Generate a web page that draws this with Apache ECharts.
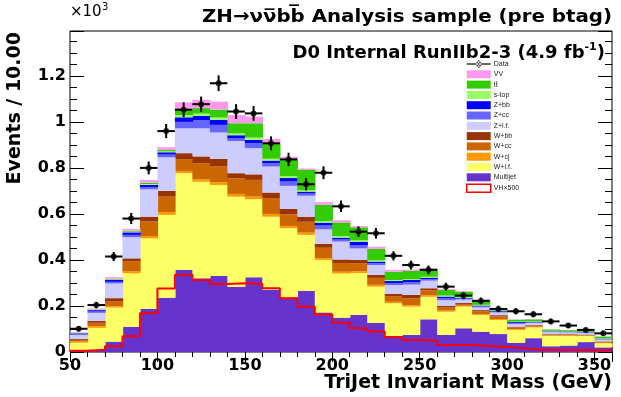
<!DOCTYPE html>
<html><head><meta charset="utf-8">
<script src="https://cdn.jsdelivr.net/npm/echarts@6/dist/echarts.min.js"></script>
<style>html,body{margin:0;padding:0;background:#fff}#c{width:621px;height:397px}</style>
</head><body><div id="c"></div>
<script>
// ---- data (Events / 10 GeV, in units of 10^3) ----
const binLow = [50,60,70,80,90,100,110,120,130,140,150,160,170,180,190,200,210,220,230,240,250,260,270,280,290,300,310,320,330,340,350];
const binWidth = 10;
const multijet = [0.005,0.01,0.045,0.11,0.187,0.236,0.357,0.32,0.33,0.284,0.325,0.27,0.238,0.265,0.172,0.149,0.161,0.126,0.07,0.074,0.142,0.074,0.103,0.088,0.078,0.04,0.06,0.025,0.028,0.043,0.02];
const wlf = [0.035,0.095,0.148,0.232,0.307,0.36,0.42,0.42,0.396,0.391,0.339,0.318,0.3,0.244,0.228,0.192,0.182,0.158,0.142,0.123,0.098,0.101,0.094,0.073,0.061,0.056,0.047,0.045,0.042,0.026,0.018];
const wcj = [0.006,0.008,0.006,0.008,0.01,0.012,0.01,0.01,0.012,0.012,0.012,0.012,0.01,0.01,0.008,0.008,0.008,0.008,0.006,0.006,0.006,0.005,0.004,0.004,0.004,0.003,0.003,0.002,0.002,0.002,0.002];
const wcc = [0.006,0.014,0.02,0.045,0.063,0.067,0.051,0.071,0.068,0.068,0.072,0.069,0.05,0.047,0.045,0.038,0.035,0.03,0.025,0.03,0.022,0.014,0.008,0.012,0.012,0.008,0.005,0.004,0.004,0.003,0.004];
const wbb = [0.004,0.008,0.015,0.012,0.021,0.025,0.026,0.029,0.033,0.022,0.024,0.024,0.024,0.022,0.017,0.015,0.014,0.013,0.01,0.015,0.009,0.006,0.004,0.005,0.005,0.003,0.003,0.002,0.002,0.002,0.002];
const zlf = [0.018,0.035,0.064,0.092,0.119,0.146,0.108,0.122,0.115,0.14,0.114,0.113,0.1,0.091,0.063,0.078,0.05,0.043,0.038,0.045,0.033,0.025,0.015,0.012,0.012,0.012,0.008,0.008,0.007,0.006,0.008];
const zcc = [0.004,0.006,0.007,0.01,0.009,0.012,0.028,0.036,0.033,0.011,0.021,0.014,0.019,0.01,0.017,0.009,0.015,0.008,0.009,0.01,0.007,0.008,0.004,0.004,0.003,0.004,0.003,0.002,0.002,0.002,0.002];
const zbb = [0.003,0.006,0.008,0.011,0.01,0.01,0.02,0.018,0.022,0.014,0.015,0.012,0.015,0.008,0.012,0.008,0.014,0.007,0.009,0.01,0.006,0.008,0.004,0.004,0.003,0.004,0.003,0.002,0.002,0.002,0.002];
const stop = [0.001,0.001,0.002,0.003,0.004,0.004,0.01,0.01,0.01,0.008,0.01,0.008,0.008,0.006,0.007,0.006,0.006,0.005,0.004,0.004,0.004,0.004,0.004,0.003,0.002,0.002,0.002,0.002,0.001,0.001,0.002];
const ttbar = [0.001,0.002,0.003,0.004,0.006,0.006,0.023,0.024,0.034,0.044,0.062,0.067,0.071,0.088,0.07,0.06,0.057,0.05,0.036,0.035,0.033,0.025,0.022,0.021,0.01,0.008,0.008,0.006,0.005,0.004,0.007];
const vv = [0.003,0.004,0.007,0.008,0.012,0.012,0.032,0.036,0.035,0.036,0.029,0.019,0.014,0.006,0.012,0.01,0.005,0.01,0.008,0.006,0.004,0.004,0.003,0.003,0.002,0.002,0.001,0.001,0.001,0.001,0.001];
const dataVals = [0.101,0.204,0.415,0.58,0.80,0.96,1.053,1.077,1.168,1.045,1.037,0.907,0.837,0.729,0.779,0.633,0.523,0.516,0.418,0.378,0.357,0.284,0.245,0.222,0.187,0.177,0.164,0.133,0.115,0.096,0.081];
const dataErr = [0.011,0.014,0.02,0.024,0.028,0.031,0.032,0.033,0.034,0.032,0.032,0.03,0.029,0.027,0.028,0.025,0.023,0.023,0.02,0.019,0.019,0.017,0.016,0.015,0.014,0.013,0.013,0.012,0.011,0.01,0.009];
const vh500 = [0.005,0.01,0.025,0.068,0.168,0.276,0.336,0.313,0.296,0.299,0.296,0.277,0.234,0.197,0.163,0.127,0.103,0.089,0.064,0.052,0.049,0.03,0.03,0.026,0.022,0.016,0.01,0.01,0.009,0.007,0.006];
const xTickLabels = [50,100,150,200,250,300,350];
const yTickLabels = [0,0.2,0.4,0.6,0.8,1,1.2];

// stack order bottom -> top
const stackDefs = [
  {name:'Multijet', vals:multijet, color:'#6633cc'},
  {name:'W+l.f.', vals:wlf, color:'#ffff66'},
  {name:'W+cj', vals:wcj, color:'#ff9900'},
  {name:'W+cc', vals:wcc, color:'#cc6600'},
  {name:'W+bb', vals:wbb, color:'#993300'},
  {name:'Z+l.f.', vals:zlf, color:'#ccccff'},
  {name:'Z+cc', vals:zcc, color:'#6666ff'},
  {name:'Z+bb', vals:zbb, color:'#0000ff'},
  {name:'s-top', vals:stop, color:'#99ff66'},
  {name:'tt\u0304', vals:ttbar, color:'#33cc00'},
  {name:'VV', vals:vv, color:'#ff99ee'}
];

const base = binLow.map(() => 0);
const series = [];
stackDefs.forEach(d => {
  const rows = binLow.map((x, i) => { const b = base[i]; base[i] += d.vals[i]; return [x, b, base[i]]; });
  series.push({
    type:'custom', name:d.name, xAxisIndex:0, yAxisIndex:0, z:2,
    itemStyle:{color:d.color},
    encode:{x:0, y:[1,2]},
    data: rows,
    renderItem: (params, api) => {
      const x0 = api.value(0), b = api.value(1), t = api.value(2);
      const p0 = api.coord([x0, t]), p1 = api.coord([x0 + binWidth, b]);
      return {type:'rect', shape:{x:p0[0], y:p0[1], width:p1[0]-p0[0]+0.7, height:p1[1]-p0[1]}, style:{fill:d.color}};
    }
  });
});

// VH x 500 step outline
const vhPts = binLow.map((x, i) => [x, vh500[i]]);
vhPts.push([binLow[binLow.length-1] + binWidth, vh500[vh500.length-1]]);
series.push({
  type:'line', name:'VH\u00d7500', step:'end', symbol:'none', z:4,
  itemStyle:{color:'#ff0000'}, lineStyle:{color:'#ff0000', width:2}, data: vhPts
});

// Data error bars
series.push({
  type:'custom', name:'DataErr', z:5, encode:{x:0, y:1},
  data: binLow.map((x, i) => [x + binWidth/2, dataVals[i], dataErr[i]]),
  renderItem: (params, api) => {
    const xc = api.value(0), v = api.value(1), e = api.value(2);
    const l = api.coord([xc - binWidth/2, v]), r = api.coord([xc + binWidth/2, v]);
    const t = api.coord([xc, v + e]), b = api.coord([xc, v - e]);
    return {type:'group', children:[
      {type:'line', shape:{x1:l[0], y1:l[1], x2:r[0], y2:r[1]}, style:{stroke:'#000', lineWidth:2}},
      {type:'line', shape:{x1:t[0], y1:t[1], x2:b[0], y2:b[1]}, style:{stroke:'#000', lineWidth:2}}
    ]};
  }
});
series.push({
  type:'scatter', name:'Data', z:6, symbol:'circle', symbolSize:6,
  itemStyle:{color:'#000'},
  data: binLow.map((x, i) => [x + binWidth/2, dataVals[i]])
});

const FONT = 'DejaVu Sans';
const xMin = 50, xMax = 360, yMin = 0, yMax = 1.395;
function mkX(pos, interval, len, labels) {
  return {type:'value', min:xMin, max:xMax, interval:interval, position:pos,
    axisLine:{show:false}, splitLine:{show:false},
    axisTick:{show:true, inside:true, length:len, lineStyle:{color:'#000', width:1}},
    axisLabel: labels ? {show:true, color:'#000', fontFamily:FONT, fontWeight:'bold', fontSize:16, margin:6,
      formatter: v => xTickLabels.indexOf(v) >= 0 ? String(v) : ''} : {show:false}};
}
function mkY(pos, interval, len, labels) {
  return {type:'value', min:yMin, max:yMax, interval:interval, position:pos,
    axisLine:{show:false}, splitLine:{show:false},
    axisTick:{show:true, inside:true, length:len, lineStyle:{color:'#000', width:1}},
    axisLabel: labels ? {show:true, color:'#000', fontFamily:FONT, fontWeight:'bold', fontSize:16, margin:4,
      formatter: v => { const m = yTickLabels.find(t => Math.abs(t - v) < 1e-6); return m === undefined ? '' : String(m); }} : {show:false}};
}

const legendOrder = ['Data','VV','tt\u0304','s-top','Z+bb','Z+cc','Z+l.f.','W+bb','W+cc','W+cj','W+l.f.','Multijet','VH\u00d7500'];
const legendData = legendOrder.map(n => {
  if (n === 'Data') return {name:n, icon:'path://M0,4.4 L24,4.4 L24,5.6 L0,5.6 Z M9.5,5 A2.5,2.5 0 1,0 14.5,5 A2.5,2.5 0 1,0 9.5,5 Z M11.4,1.5 L12.6,1.5 L12.6,8.5 L11.4,8.5 Z', itemStyle:{color:'#000'}};
  if (n === 'VH\u00d7500') return {name:n, icon:'rect', itemStyle:{color:'#fff', borderColor:'#ff0000', borderWidth:1.5}};
  return {name:n, icon:'rect'};
});

const chart = echarts.init(document.getElementById('c'), null, {renderer:'canvas'});
chart.setOption({
  animation:false,
  backgroundColor:'#fff',
  grid:{left:70, right:9, top:31, bottom:45, show:true, borderColor:'#000', borderWidth:1, backgroundColor:'transparent'},
  xAxis:[mkX('bottom',50,10,true), mkX('bottom',10,5,false), mkX('top',50,10,false), mkX('top',10,5,false)],
  yAxis:[mkY('left',0.2,14,true), mkY('left',0.05,7,false), mkY('right',0.2,14,false), mkY('right',0.05,7,false)],
  legend:{show:true, orient:'vertical', left:466, top:60, padding:0, itemWidth:24, itemHeight:8, itemGap:2.3,
    selectedMode:false, symbolKeepAspect:false,
    textStyle:{fontFamily:'Liberation Sans', fontSize:7, color:'#222', lineHeight:8, padding:[0,0,0,-2]},
    data: legendData},
  graphic:[
    {type:'text', left:70, top:5, style:{text:'\u00d710', font:'15px "DejaVu Sans"', fill:'#000'}},
    {type:'text', left:102, top:2, style:{text:'3', font:'10px "DejaVu Sans"', fill:'#000'}},
    {type:'text', x:612, y:17, scaleX:1.1, style:{text:'ZH\u2192\u03bd\u03bd\u0305bb\u0305 Analysis sample (pre btag)', font:'bold 18px "DejaVu Sans"', fill:'#000', align:'right', verticalAlign:'middle'}},
    {type:'text', x:605, y:52, style:{text:'{a|D0 Internal RunIIb2-3 (4.9 fb}{s|-1}{a|)}', align:'right', verticalAlign:'middle', rich:{a:{font:'bold 18px "DejaVu Sans"', fill:'#000', verticalAlign:'bottom'}, s:{font:'bold 11px "DejaVu Sans"', fill:'#000', verticalAlign:'top', padding:[0,0,9,0]}}}},
    {type:'text', x:15, y:32, rotation:Math.PI/2, style:{text:'Events / 10.00', font:'bold 19px "DejaVu Sans"', fill:'#000', align:'right', verticalAlign:'middle'}},
    {type:'text', x:612, y:383, style:{text:'TriJet Invariant Mass (GeV)', font:'bold 19px "DejaVu Sans"', fill:'#000', align:'right', verticalAlign:'middle'}}
  ],
  series: series
});
</script></body></html>
